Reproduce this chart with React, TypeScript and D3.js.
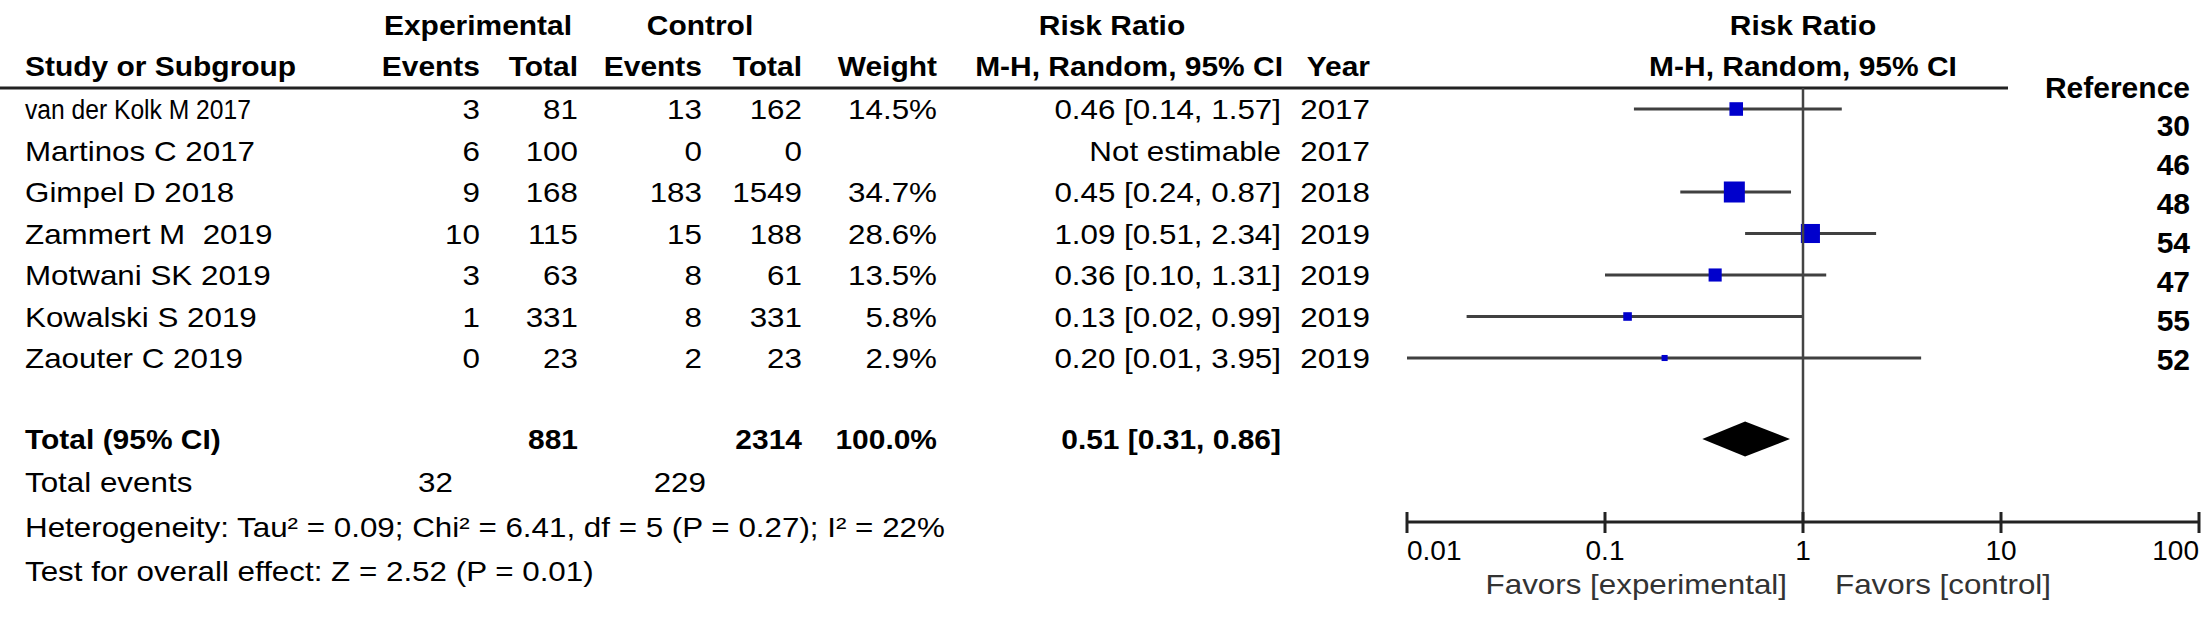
import { scaleLog, scalePoint, scaleSqrt } from "d3";
import type React from "react";

const studies = [
  "van der Kolk M 2017",
  "Martinos C 2017",
  "Gimpel D 2018",
  "Zammert M  2019",
  "Motwani SK 2019",
  "Kowalski S 2019",
  "Zaouter C 2019"
];
const expEvents = [3, 6, 9, 10, 3, 1, 0];
const expTotal = [81, 100, 168, 115, 63, 331, 23];
const ctrlEvents = [13, 0, 183, 15, 8, 8, 2];
const ctrlTotal = [162, 0, 1549, 188, 61, 331, 23];
const weights: (number | null)[] = [14.5, null, 34.7, 28.6, 13.5, 5.8, 2.9];
const ratios: (number | null)[] = [0.46, null, 0.45, 1.09, 0.36, 0.13, 0.2];
const lower: (number | null)[] = [0.14, null, 0.24, 0.51, 0.1, 0.02, 0.01];
const upper: (number | null)[] = [1.57, null, 0.87, 2.34, 1.31, 0.99, 3.95];
const years = [2017, 2017, 2018, 2019, 2019, 2019, 2019];
const references = [30, 46, 48, 54, 47, 55, 52];

const totalExp = 881;
const totalCtrl = 2314;
const totalWeight = 100.0;
const pooled = [0.51, 0.31, 0.86];
const totalExpEvents = 32;
const totalCtrlEvents = 229;
const heterogeneity = "Heterogeneity: Tau\u00b2 = 0.09; Chi\u00b2 = 6.41, df = 5 (P = 0.27); I\u00b2 = 22%";
const overallEffect = "Test for overall effect: Z = 2.52 (P = 0.01)";
const ticks = [0.01, 0.1, 1, 10, 100];

const width = 2209;
const height = 633;
const font = "'Liberation Sans', Arial, sans-serif";

// column right edges
const col = {
  name: 25,
  expEvents: 480,
  expTotal: 578,
  ctrlEvents: 702,
  ctrlTotal: 802,
  weight: 937,
  ci: 1281,
  year: 1370
};

interface TProps {
  readonly x: number;
  readonly y: number;
  readonly anchor?: "start" | "middle" | "end";
  readonly bold?: boolean;
  readonly size?: number;
  readonly sx?: number;
  readonly fill?: string;
  readonly children: React.ReactNode;
}

function T({ x, y, anchor = "start", bold = false, size = 28, sx, fill = "#000", children }: TProps) {
  const k = sx ?? (bold ? 1.07 : 1.12);
  return (
    <text
      transform={`translate(${x},${y}) scale(${k},1)`}
      textAnchor={anchor}
      fontFamily={font}
      fontSize={size}
      fontWeight={bold ? "bold" : "normal"}
      fill={fill}
      style={{ whiteSpace: "pre" }}
    >
      {children}
    </text>
  );
}

const fmt = (v: number) => v.toFixed(2);

export default function App() {
  const x = scaleLog().domain([0.01, 100]).range([1407, 2199]);
  const y = scalePoint<string>().domain(studies).range([109, 358]);
  const refY = scalePoint<string>()
    .domain(references.map(String))
    .range([136, 370]);
  const side = scaleSqrt().domain([0, 34.7]).range([0, 21]);

  const headerLine = 88;
  const axisY = 522;
  const totalY = 439;
  const x1 = x(1);

  return (
    <svg
      width={width}
      height={height}
      viewBox={`0 0 ${width} ${height}`}
      style={{ position: "absolute", left: 0, top: 0, background: "#fff" }}
    >
      {/* header */}
      <T x={478} y={35} anchor="middle" bold>Experimental</T>
      <T x={700} y={35} anchor="middle" bold>Control</T>
      <T x={1112} y={35} anchor="middle" bold>Risk Ratio</T>
      <T x={x1} y={35} anchor="middle" bold>Risk Ratio</T>

      <T x={col.name} y={76} bold>Study or Subgroup</T>
      <T x={col.expEvents} y={76} anchor="end" bold>Events</T>
      <T x={col.expTotal} y={76} anchor="end" bold>Total</T>
      <T x={col.ctrlEvents} y={76} anchor="end" bold>Events</T>
      <T x={col.ctrlTotal} y={76} anchor="end" bold>Total</T>
      <T x={col.weight} y={76} anchor="end" bold>Weight</T>
      <T x={col.ci + 2} y={76} anchor="end" bold>M-H, Random, 95% CI</T>
      <T x={col.year} y={76} anchor="end" bold>Year</T>
      <T x={x1} y={76} anchor="middle" bold>M-H, Random, 95% CI</T>

      <line x1={0} x2={2008} y1={headerLine} y2={headerLine} stroke="#222" strokeWidth={3} />

      <T x={2190} y={98} anchor="end" bold size={30} sx={1}>Reference</T>
      {references.map((r) => (
        <T key={`ref-${r}`} x={2190} y={refY(String(r)) ?? 0} anchor="end" bold size={30} sx={1}>
          {r}
        </T>
      ))}

      {/* study rows */}
      {studies.map((s, i) => {
        const cy = y(s) ?? 0;
        const base = cy + 10;
        const w = weights[i];
        const rr = ratios[i];
        const lo = lower[i];
        const hi = upper[i];
        return (
          <g key={s}>
            <T x={col.name} y={base} sx={i === 0 ? 0.88 : 1.12}>{s}</T>
            <T x={col.expEvents} y={base} anchor="end">{expEvents[i]}</T>
            <T x={col.expTotal} y={base} anchor="end">{expTotal[i]}</T>
            <T x={col.ctrlEvents} y={base} anchor="end">{ctrlEvents[i]}</T>
            <T x={col.ctrlTotal} y={base} anchor="end">{ctrlTotal[i]}</T>
            {w !== null ? (
              <T x={col.weight} y={base} anchor="end">{`${w.toFixed(1)}%`}</T>
            ) : null}
            <T x={col.ci} y={base} anchor="end">
              {rr !== null && lo !== null && hi !== null
                ? `${fmt(rr)} [${fmt(lo)}, ${fmt(hi)}]`
                : "Not estimable"}
            </T>
            <T x={col.year} y={base} anchor="end">{years[i]}</T>
            {rr !== null && lo !== null && hi !== null && w !== null ? (
              <g>
                <line x1={x(lo)} x2={x(hi)} y1={cy} y2={cy} stroke="#404040" strokeWidth={3} />
                <rect
                  x={x(rr) - side(w) / 2}
                  y={cy - side(w) / 2}
                  width={side(w)}
                  height={side(w)}
                  fill="#0000cc"
                />
              </g>
            ) : null}
          </g>
        );
      })}

      {/* totals */}
      <T x={col.name} y={totalY + 10} bold>Total (95% CI)</T>
      <T x={col.expTotal} y={totalY + 10} anchor="end" bold>{totalExp}</T>
      <T x={col.ctrlTotal} y={totalY + 10} anchor="end" bold>{totalCtrl}</T>
      <T x={col.weight} y={totalY + 10} anchor="end" bold>{`${totalWeight.toFixed(1)}%`}</T>
      <T x={col.ci} y={totalY + 10} anchor="end" bold>
        {`${fmt(pooled[0])} [${fmt(pooled[1])}, ${fmt(pooled[2])}]`}
      </T>
      <path
        d={`M${x(pooled[1])},${totalY} L${x(pooled[0])},${totalY - 17.5} L${x(pooled[2])},${totalY} L${x(pooled[0])},${totalY + 17.5} Z`}
        fill="#000"
      />

      <T x={col.name} y={492}>Total events</T>
      <T x={453} y={492} anchor="end">{totalExpEvents}</T>
      <T x={706} y={492} anchor="end">{totalCtrlEvents}</T>
      <T x={col.name} y={537}>{heterogeneity}</T>
      <T x={col.name} y={581}>{overallEffect}</T>

      {/* plot axis */}
      <line x1={x1} x2={x1} y1={headerLine} y2={axisY} stroke="#444" strokeWidth={2.5} />
      <line x1={x(0.01)} x2={x(100)} y1={axisY} y2={axisY} stroke="#222" strokeWidth={3} />
      {ticks.map((t, i) => (
        <g key={`tick-${t}`}>
          <line x1={x(t)} x2={x(t)} y1={axisY - 10} y2={axisY + 11} stroke="#222" strokeWidth={3} />
          <T
            x={x(t)}
            y={560}
            sx={1}
            anchor={i === 0 ? "start" : i === ticks.length - 1 ? "end" : "middle"}
          >
            {t}
          </T>
        </g>
      ))}
      <T x={x1 - 16} y={594} anchor="end" fill="#333">Favors [experimental]</T>
      <T x={x1 + 32} y={594} fill="#333">Favors [control]</T>
    </svg>
  );
}
